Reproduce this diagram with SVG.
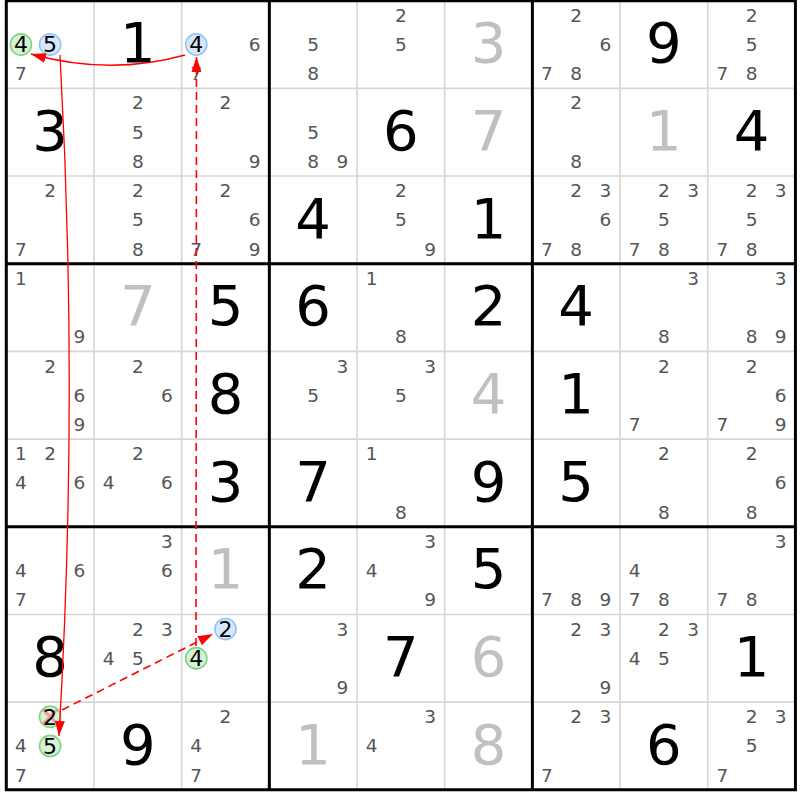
<svg xmlns="http://www.w3.org/2000/svg" width="800" height="800" viewBox="0 0 800 800">
<style>
text{font-family:"DejaVu Sans","Verdana",sans-serif}
.g{font-size:56px;fill:#000;text-anchor:middle}
.s{font-size:56px;fill:#c0c0c0;text-anchor:middle}
.c{font-size:18.5px;fill:#555;text-anchor:middle}
.h{font-size:22px;fill:#000;text-anchor:middle}
.hg{fill:#d6f2d6;stroke:#80d480;stroke-width:1.6}
.hb{fill:#d6e8fb;stroke:#94c4f5;stroke-width:1.6}
.thin{stroke:#d6d6d6;stroke-width:1.6}
.thick{stroke:#000;stroke-width:3}
.arr{fill:none;stroke:#ff0000;stroke-width:1.3}
.dash{fill:none;stroke:#ff0000;stroke-width:1.6;stroke-dasharray:8 5}
.x{stroke:#f08a8a;stroke-width:3;opacity:0.8}
</style>
<defs>
<marker id="ah" viewBox="0 0 15 10" refX="15" refY="5" markerWidth="15" markerHeight="10" markerUnits="userSpaceOnUse" orient="auto"><path d="M0,0 L15,5 L0,10 z" fill="#ff0000"/></marker>
</defs>
<rect x="0" y="0" width="800" height="800" fill="#fff"/>
<g id="grid-lines">
<path class="thin" d="M93.98,0 V790 M181.66,0 V790 M357.02,0 V790 M444.7,0 V790 M620.06,0 V790 M707.74,0 V790 M6,88.38 H796 M6,176.06 H796 M6,351.42 H796 M6,439.1 H796 M6,614.46 H796 M6,702.14 H796"/>
<path class="thick" d="M6.3,0 V791.3 M269.34,0 V790 M532.38,0 V790 M795.42,0 V791.3 M4.8,0.7 H796.9 M6,263.74 H796 M6,526.78 H796 M4.8,789.82 H796.9"/>
</g>
<g id="r0c0" transform="translate(6.3,0.7)"><circle class="hg" cx="14.6" cy="43.8" r="10.6"/><text class="h" x="14.6" y="51.8">4</text><circle class="hb" cx="43.8" cy="43.8" r="10.6"/><text class="h" x="43.8" y="51.8">5</text><text class="c" x="14.6" y="79.5">7</text></g>
<g id="r0c1" transform="translate(93.98,0.7)"><text class="g" x="43.8" y="61.5">1</text></g>
<g id="r0c2" transform="translate(181.66,0.7)"><circle class="hb" cx="14.6" cy="43.8" r="10.6"/><text class="h" x="14.6" y="51.8">4</text><text class="c" x="73" y="50.3">6</text><text class="c" x="14.6" y="79.5">7</text></g>
<g id="r0c3" transform="translate(269.34,0.7)"><text class="c" x="43.8" y="50.3">5</text><text class="c" x="43.8" y="79.5">8</text></g>
<g id="r0c4" transform="translate(357.02,0.7)"><text class="c" x="43.8" y="21.1">2</text><text class="c" x="43.8" y="50.3">5</text></g>
<g id="r0c5" transform="translate(444.7,0.7)"><text class="s" x="43.8" y="61.5">3</text></g>
<g id="r0c6" transform="translate(532.38,0.7)"><text class="c" x="43.8" y="21.1">2</text><text class="c" x="73" y="50.3">6</text><text class="c" x="14.6" y="79.5">7</text><text class="c" x="43.8" y="79.5">8</text></g>
<g id="r0c7" transform="translate(620.06,0.7)"><text class="g" x="43.8" y="61.5">9</text></g>
<g id="r0c8" transform="translate(707.74,0.7)"><text class="c" x="43.8" y="21.1">2</text><text class="c" x="43.8" y="50.3">5</text><text class="c" x="14.6" y="79.5">7</text><text class="c" x="43.8" y="79.5">8</text></g>

<g id="r1c0" transform="translate(6.3,88.38)"><text class="g" x="43.8" y="61.5">3</text></g>
<g id="r1c1" transform="translate(93.98,88.38)"><text class="c" x="43.8" y="21.1">2</text><text class="c" x="43.8" y="50.3">5</text><text class="c" x="43.8" y="79.5">8</text></g>
<g id="r1c2" transform="translate(181.66,88.38)"><text class="c" x="43.8" y="21.1">2</text><text class="c" x="73" y="79.5">9</text></g>
<g id="r1c3" transform="translate(269.34,88.38)"><text class="c" x="43.8" y="50.3">5</text><text class="c" x="43.8" y="79.5">8</text><text class="c" x="73" y="79.5">9</text></g>
<g id="r1c4" transform="translate(357.02,88.38)"><text class="g" x="43.8" y="61.5">6</text></g>
<g id="r1c5" transform="translate(444.7,88.38)"><text class="s" x="43.8" y="61.5">7</text></g>
<g id="r1c6" transform="translate(532.38,88.38)"><text class="c" x="43.8" y="21.1">2</text><text class="c" x="43.8" y="79.5">8</text></g>
<g id="r1c7" transform="translate(620.06,88.38)"><text class="s" x="43.8" y="61.5">1</text></g>
<g id="r1c8" transform="translate(707.74,88.38)"><text class="g" x="43.8" y="61.5">4</text></g>

<g id="r2c0" transform="translate(6.3,176.06)"><text class="c" x="43.8" y="21.1">2</text><text class="c" x="14.6" y="79.5">7</text></g>
<g id="r2c1" transform="translate(93.98,176.06)"><text class="c" x="43.8" y="21.1">2</text><text class="c" x="43.8" y="50.3">5</text><text class="c" x="43.8" y="79.5">8</text></g>
<g id="r2c2" transform="translate(181.66,176.06)"><text class="c" x="43.8" y="21.1">2</text><text class="c" x="73" y="50.3">6</text><text class="c" x="14.6" y="79.5">7</text><text class="c" x="73" y="79.5">9</text></g>
<g id="r2c3" transform="translate(269.34,176.06)"><text class="g" x="43.8" y="61.5">4</text></g>
<g id="r2c4" transform="translate(357.02,176.06)"><text class="c" x="43.8" y="21.1">2</text><text class="c" x="43.8" y="50.3">5</text><text class="c" x="73" y="79.5">9</text></g>
<g id="r2c5" transform="translate(444.7,176.06)"><text class="g" x="43.8" y="61.5">1</text></g>
<g id="r2c6" transform="translate(532.38,176.06)"><text class="c" x="43.8" y="21.1">2</text><text class="c" x="73" y="21.1">3</text><text class="c" x="73" y="50.3">6</text><text class="c" x="14.6" y="79.5">7</text><text class="c" x="43.8" y="79.5">8</text></g>
<g id="r2c7" transform="translate(620.06,176.06)"><text class="c" x="43.8" y="21.1">2</text><text class="c" x="73" y="21.1">3</text><text class="c" x="43.8" y="50.3">5</text><text class="c" x="14.6" y="79.5">7</text><text class="c" x="43.8" y="79.5">8</text></g>
<g id="r2c8" transform="translate(707.74,176.06)"><text class="c" x="43.8" y="21.1">2</text><text class="c" x="73" y="21.1">3</text><text class="c" x="43.8" y="50.3">5</text><text class="c" x="14.6" y="79.5">7</text><text class="c" x="43.8" y="79.5">8</text></g>

<g id="r3c0" transform="translate(6.3,263.74)"><text class="c" x="14.6" y="21.1">1</text><text class="c" x="73" y="79.5">9</text></g>
<g id="r3c1" transform="translate(93.98,263.74)"><text class="s" x="43.8" y="61.5">7</text></g>
<g id="r3c2" transform="translate(181.66,263.74)"><text class="g" x="43.8" y="61.5">5</text></g>
<g id="r3c3" transform="translate(269.34,263.74)"><text class="g" x="43.8" y="61.5">6</text></g>
<g id="r3c4" transform="translate(357.02,263.74)"><text class="c" x="14.6" y="21.1">1</text><text class="c" x="43.8" y="79.5">8</text></g>
<g id="r3c5" transform="translate(444.7,263.74)"><text class="g" x="43.8" y="61.5">2</text></g>
<g id="r3c6" transform="translate(532.38,263.74)"><text class="g" x="43.8" y="61.5">4</text></g>
<g id="r3c7" transform="translate(620.06,263.74)"><text class="c" x="73" y="21.1">3</text><text class="c" x="43.8" y="79.5">8</text></g>
<g id="r3c8" transform="translate(707.74,263.74)"><text class="c" x="73" y="21.1">3</text><text class="c" x="43.8" y="79.5">8</text><text class="c" x="73" y="79.5">9</text></g>

<g id="r4c0" transform="translate(6.3,351.42)"><text class="c" x="43.8" y="21.1">2</text><text class="c" x="73" y="50.3">6</text><text class="c" x="73" y="79.5">9</text></g>
<g id="r4c1" transform="translate(93.98,351.42)"><text class="c" x="43.8" y="21.1">2</text><text class="c" x="73" y="50.3">6</text></g>
<g id="r4c2" transform="translate(181.66,351.42)"><text class="g" x="43.8" y="61.5">8</text></g>
<g id="r4c3" transform="translate(269.34,351.42)"><text class="c" x="73" y="21.1">3</text><text class="c" x="43.8" y="50.3">5</text></g>
<g id="r4c4" transform="translate(357.02,351.42)"><text class="c" x="73" y="21.1">3</text><text class="c" x="43.8" y="50.3">5</text></g>
<g id="r4c5" transform="translate(444.7,351.42)"><text class="s" x="43.8" y="61.5">4</text></g>
<g id="r4c6" transform="translate(532.38,351.42)"><text class="g" x="43.8" y="61.5">1</text></g>
<g id="r4c7" transform="translate(620.06,351.42)"><text class="c" x="43.8" y="21.1">2</text><text class="c" x="14.6" y="79.5">7</text></g>
<g id="r4c8" transform="translate(707.74,351.42)"><text class="c" x="43.8" y="21.1">2</text><text class="c" x="73" y="50.3">6</text><text class="c" x="14.6" y="79.5">7</text><text class="c" x="73" y="79.5">9</text></g>

<g id="r5c0" transform="translate(6.3,439.1)"><text class="c" x="14.6" y="21.1">1</text><text class="c" x="43.8" y="21.1">2</text><text class="c" x="14.6" y="50.3">4</text><text class="c" x="73" y="50.3">6</text></g>
<g id="r5c1" transform="translate(93.98,439.1)"><text class="c" x="43.8" y="21.1">2</text><text class="c" x="14.6" y="50.3">4</text><text class="c" x="73" y="50.3">6</text></g>
<g id="r5c2" transform="translate(181.66,439.1)"><text class="g" x="43.8" y="61.5">3</text></g>
<g id="r5c3" transform="translate(269.34,439.1)"><text class="g" x="43.8" y="61.5">7</text></g>
<g id="r5c4" transform="translate(357.02,439.1)"><text class="c" x="14.6" y="21.1">1</text><text class="c" x="43.8" y="79.5">8</text></g>
<g id="r5c5" transform="translate(444.7,439.1)"><text class="g" x="43.8" y="61.5">9</text></g>
<g id="r5c6" transform="translate(532.38,439.1)"><text class="g" x="43.8" y="61.5">5</text></g>
<g id="r5c7" transform="translate(620.06,439.1)"><text class="c" x="43.8" y="21.1">2</text><text class="c" x="43.8" y="79.5">8</text></g>
<g id="r5c8" transform="translate(707.74,439.1)"><text class="c" x="43.8" y="21.1">2</text><text class="c" x="73" y="50.3">6</text><text class="c" x="43.8" y="79.5">8</text></g>

<g id="r6c0" transform="translate(6.3,526.78)"><text class="c" x="14.6" y="50.3">4</text><text class="c" x="73" y="50.3">6</text><text class="c" x="14.6" y="79.5">7</text></g>
<g id="r6c1" transform="translate(93.98,526.78)"><text class="c" x="73" y="21.1">3</text><text class="c" x="73" y="50.3">6</text></g>
<g id="r6c2" transform="translate(181.66,526.78)"><text class="s" x="43.8" y="61.5">1</text></g>
<g id="r6c3" transform="translate(269.34,526.78)"><text class="g" x="43.8" y="61.5">2</text></g>
<g id="r6c4" transform="translate(357.02,526.78)"><text class="c" x="73" y="21.1">3</text><text class="c" x="14.6" y="50.3">4</text><text class="c" x="73" y="79.5">9</text></g>
<g id="r6c5" transform="translate(444.7,526.78)"><text class="g" x="43.8" y="61.5">5</text></g>
<g id="r6c6" transform="translate(532.38,526.78)"><text class="c" x="14.6" y="79.5">7</text><text class="c" x="43.8" y="79.5">8</text><text class="c" x="73" y="79.5">9</text></g>
<g id="r6c7" transform="translate(620.06,526.78)"><text class="c" x="14.6" y="50.3">4</text><text class="c" x="14.6" y="79.5">7</text><text class="c" x="43.8" y="79.5">8</text></g>
<g id="r6c8" transform="translate(707.74,526.78)"><text class="c" x="73" y="21.1">3</text><text class="c" x="14.6" y="79.5">7</text><text class="c" x="43.8" y="79.5">8</text></g>

<g id="r7c0" transform="translate(6.3,614.46)"><text class="g" x="43.8" y="61.5">8</text></g>
<g id="r7c1" transform="translate(93.98,614.46)"><text class="c" x="43.8" y="21.1">2</text><text class="c" x="73" y="21.1">3</text><text class="c" x="14.6" y="50.3">4</text><text class="c" x="43.8" y="50.3">5</text></g>
<g id="r7c2" transform="translate(181.66,614.46)"><circle class="hb" cx="43.8" cy="14.6" r="10.6"/><text class="h" x="43.8" y="22.6">2</text><circle class="hg" cx="14.6" cy="43.8" r="10.6"/><text class="h" x="14.6" y="51.8">4</text></g>
<g id="r7c3" transform="translate(269.34,614.46)"><text class="c" x="73" y="21.1">3</text><text class="c" x="73" y="79.5">9</text></g>
<g id="r7c4" transform="translate(357.02,614.46)"><text class="g" x="43.8" y="61.5">7</text></g>
<g id="r7c5" transform="translate(444.7,614.46)"><text class="s" x="43.8" y="61.5">6</text></g>
<g id="r7c6" transform="translate(532.38,614.46)"><text class="c" x="43.8" y="21.1">2</text><text class="c" x="73" y="21.1">3</text><text class="c" x="73" y="79.5">9</text></g>
<g id="r7c7" transform="translate(620.06,614.46)"><text class="c" x="43.8" y="21.1">2</text><text class="c" x="73" y="21.1">3</text><text class="c" x="14.6" y="50.3">4</text><text class="c" x="43.8" y="50.3">5</text></g>
<g id="r7c8" transform="translate(707.74,614.46)"><text class="g" x="43.8" y="61.5">1</text></g>

<g id="r8c0" transform="translate(6.3,702.14)"><circle class="hg" cx="43.8" cy="14.6" r="10.6"/><path class="x" d="M36.3,7.1 L51.3,22.1 M51.3,7.1 L36.3,22.1"/><text class="h" x="43.8" y="22.6">2</text><text class="c" x="14.6" y="50.3">4</text><circle class="hg" cx="43.8" cy="43.8" r="10.6"/><text class="h" x="43.8" y="51.8">5</text><text class="c" x="14.6" y="79.5">7</text></g>
<g id="r8c1" transform="translate(93.98,702.14)"><text class="g" x="43.8" y="61.5">9</text></g>
<g id="r8c2" transform="translate(181.66,702.14)"><text class="c" x="43.8" y="21.1">2</text><text class="c" x="14.6" y="50.3">4</text><text class="c" x="14.6" y="79.5">7</text></g>
<g id="r8c3" transform="translate(269.34,702.14)"><text class="s" x="43.8" y="61.5">1</text></g>
<g id="r8c4" transform="translate(357.02,702.14)"><text class="c" x="73" y="21.1">3</text><text class="c" x="14.6" y="50.3">4</text></g>
<g id="r8c5" transform="translate(444.7,702.14)"><text class="s" x="43.8" y="61.5">8</text></g>
<g id="r8c6" transform="translate(532.38,702.14)"><text class="c" x="43.8" y="21.1">2</text><text class="c" x="73" y="21.1">3</text><text class="c" x="14.6" y="79.5">7</text></g>
<g id="r8c7" transform="translate(620.06,702.14)"><text class="g" x="43.8" y="61.5">6</text></g>
<g id="r8c8" transform="translate(707.74,702.14)"><text class="c" x="43.8" y="21.1">2</text><text class="c" x="73" y="21.1">3</text><text class="c" x="43.8" y="50.3">5</text><text class="c" x="14.6" y="79.5">7</text></g>

<g id="connectors">
<path class="arr" d="M185,55 Q110,76 31,54" marker-end="url(#ah)"/>
<path class="arr" d="M60,55 Q79,395 59,736" marker-end="url(#ah)"/>
<path class="dash" d="M196,646 L196.5,57" marker-end="url(#ah)"/>
<path class="dash" d="M62,710 L213,634" marker-end="url(#ah)"/>
</g>
</svg>
